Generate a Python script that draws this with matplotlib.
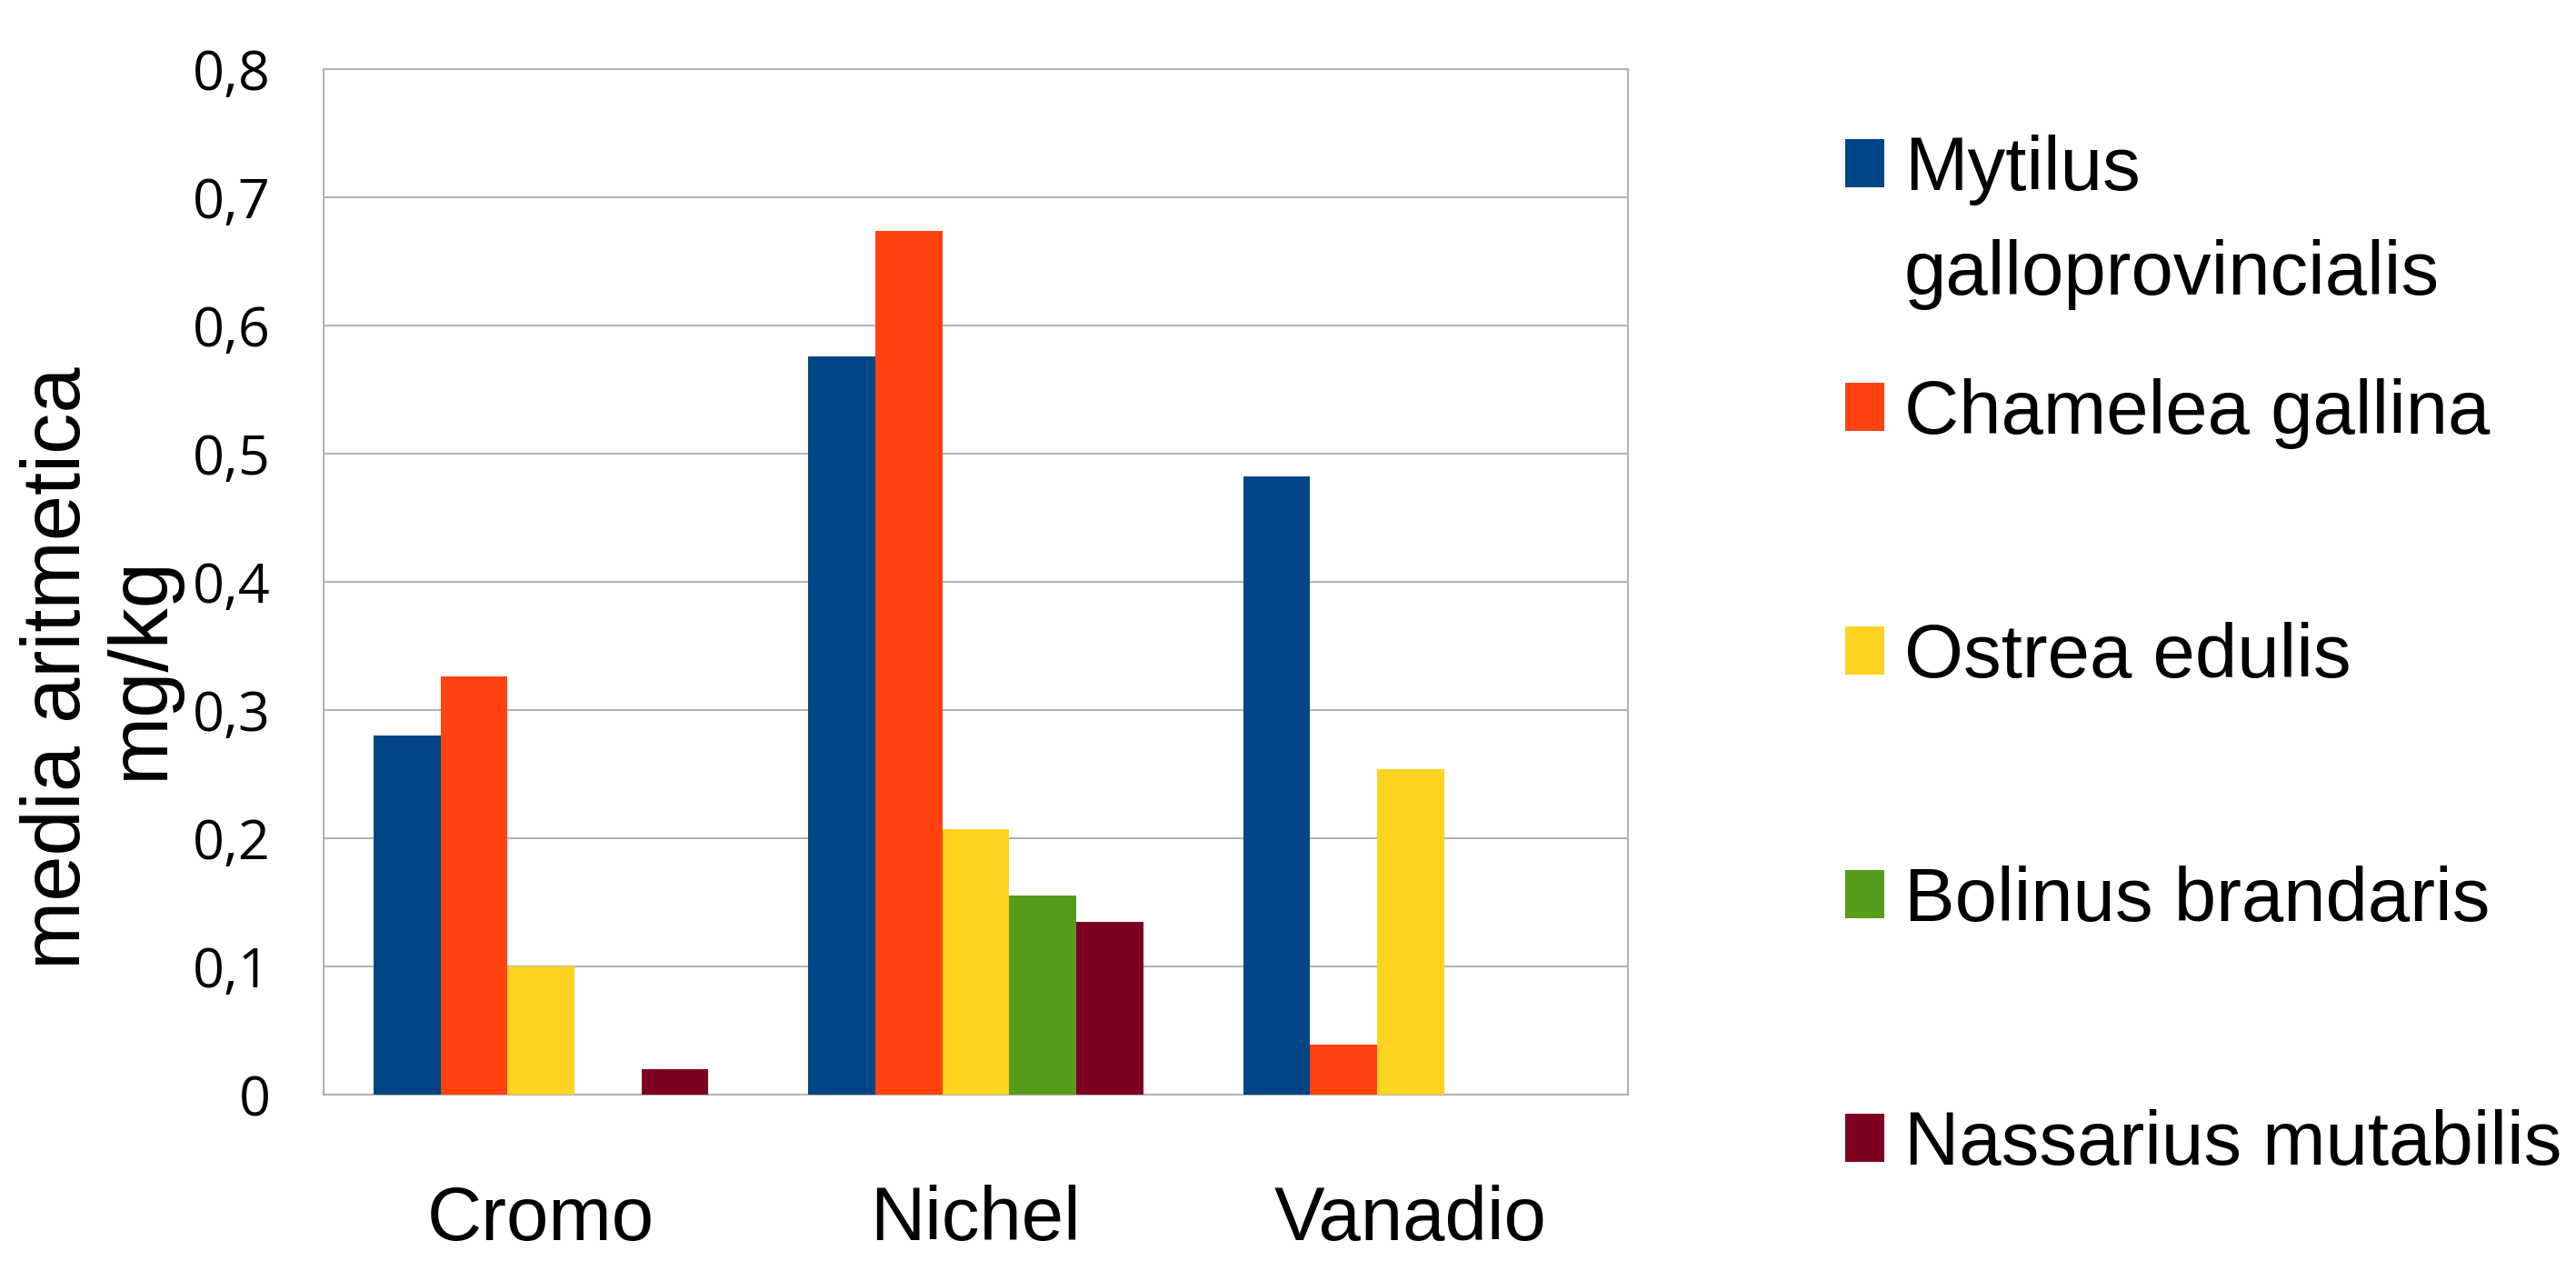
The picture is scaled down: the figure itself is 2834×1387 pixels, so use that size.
import matplotlib
matplotlib.use('Agg')
import matplotlib.pyplot as plt
from matplotlib import font_manager
from matplotlib.patches import Rectangle
import numpy as np

# ---------------- data ----------------
categories = ['Cromo', 'Nichel', 'Vanadio']
species = ['Mytilus\ngalloprovincialis', 'Chamelea gallina', 'Ostrea edulis',
           'Bolinus brandaris', 'Nassarius mutabilis']
mytilus = [0.280, 0.576, 0.482]
chamelea = [0.326, 0.674, 0.039]
ostrea = [0.100, 0.207, 0.254]
bolinus = [0.0, 0.155, 0.0]
nassarius = [0.020, 0.135, 0.0]
series = [mytilus, chamelea, ostrea, bolinus, nassarius]
colors = ['#004586', '#ff420e', '#ffd320', '#579d1c', '#7e0021']
yticks = [0, 0.1, 0.2, 0.3, 0.4, 0.5, 0.6, 0.7, 0.8]
ytick_labels = ['0', '0,1', '0,2', '0,3', '0,4', '0,5', '0,6', '0,7', '0,8']
ylabel = 'media aritmetica\nmg/kg'

# ---------------- fonts ----------------
names = {f.name for f in font_manager.fontManager.ttflist}
main_font, main_size = 'Liberation Sans', 60
tick_font = 'Open Sans' if 'Open Sans' in names else 'DejaVu Sans'

W, H = 2834, 1387
fig = plt.figure(figsize=(W / 100, H / 100), dpi=100)
ax = fig.add_axes([356 / W, (H - 1204) / H, 1435 / W, 1128 / H])

grid_c = '#b3b3b3'
n = len(series)
bw = 0.154
x = np.arange(len(categories))
for i, (vals, c) in enumerate(zip(series, colors)):
    ax.bar(x + (i - (n - 1) / 2) * bw, vals, width=bw, color=c, linewidth=0, zorder=3)

ax.set_xlim(-0.5, len(categories) - 0.5)
ax.set_ylim(0, 0.8)
ax.set_yticks(yticks)
ax.set_yticklabels(ytick_labels, fontfamily=tick_font, fontsize=44)
ax.set_xticks(x)
ax.set_xticklabels(categories, fontfamily=main_font, fontsize=main_size)
ax.tick_params(axis='y', length=0, pad=42)
ax.tick_params(axis='x', length=0, pad=71)
ax.yaxis.grid(True, color=grid_c, linewidth=1.5, zorder=0)
ax.set_axisbelow(True)
for s in ax.spines.values():
    s.set_color(grid_c)
    s.set_linewidth(1.5)

fig.text(110 / W, 1 - 735 / H, ylabel, rotation=90, ha='center', va='center',
         multialignment='center', fontfamily='Liberation Sans', fontsize=65,
         linespacing=1.1)

# legend drawn at the right
top, step = 179, 268
for i, (name, c) in enumerate(zip(species, colors)):
    cy = top + i * step
    fig.patches.append(Rectangle((2030 / W, 1 - (cy + 26.5) / H), 43 / W, 53 / H,
                                 transform=fig.transFigure, facecolor=c,
                                 edgecolor='none'))
    fig.text(2095 / W, 1 - (cy - 31) / H, name, ha='left', va='top',
             fontfamily=main_font, fontsize=main_size, linespacing=1.6)

fig.savefig('out.png', dpi=100, facecolor='white')
